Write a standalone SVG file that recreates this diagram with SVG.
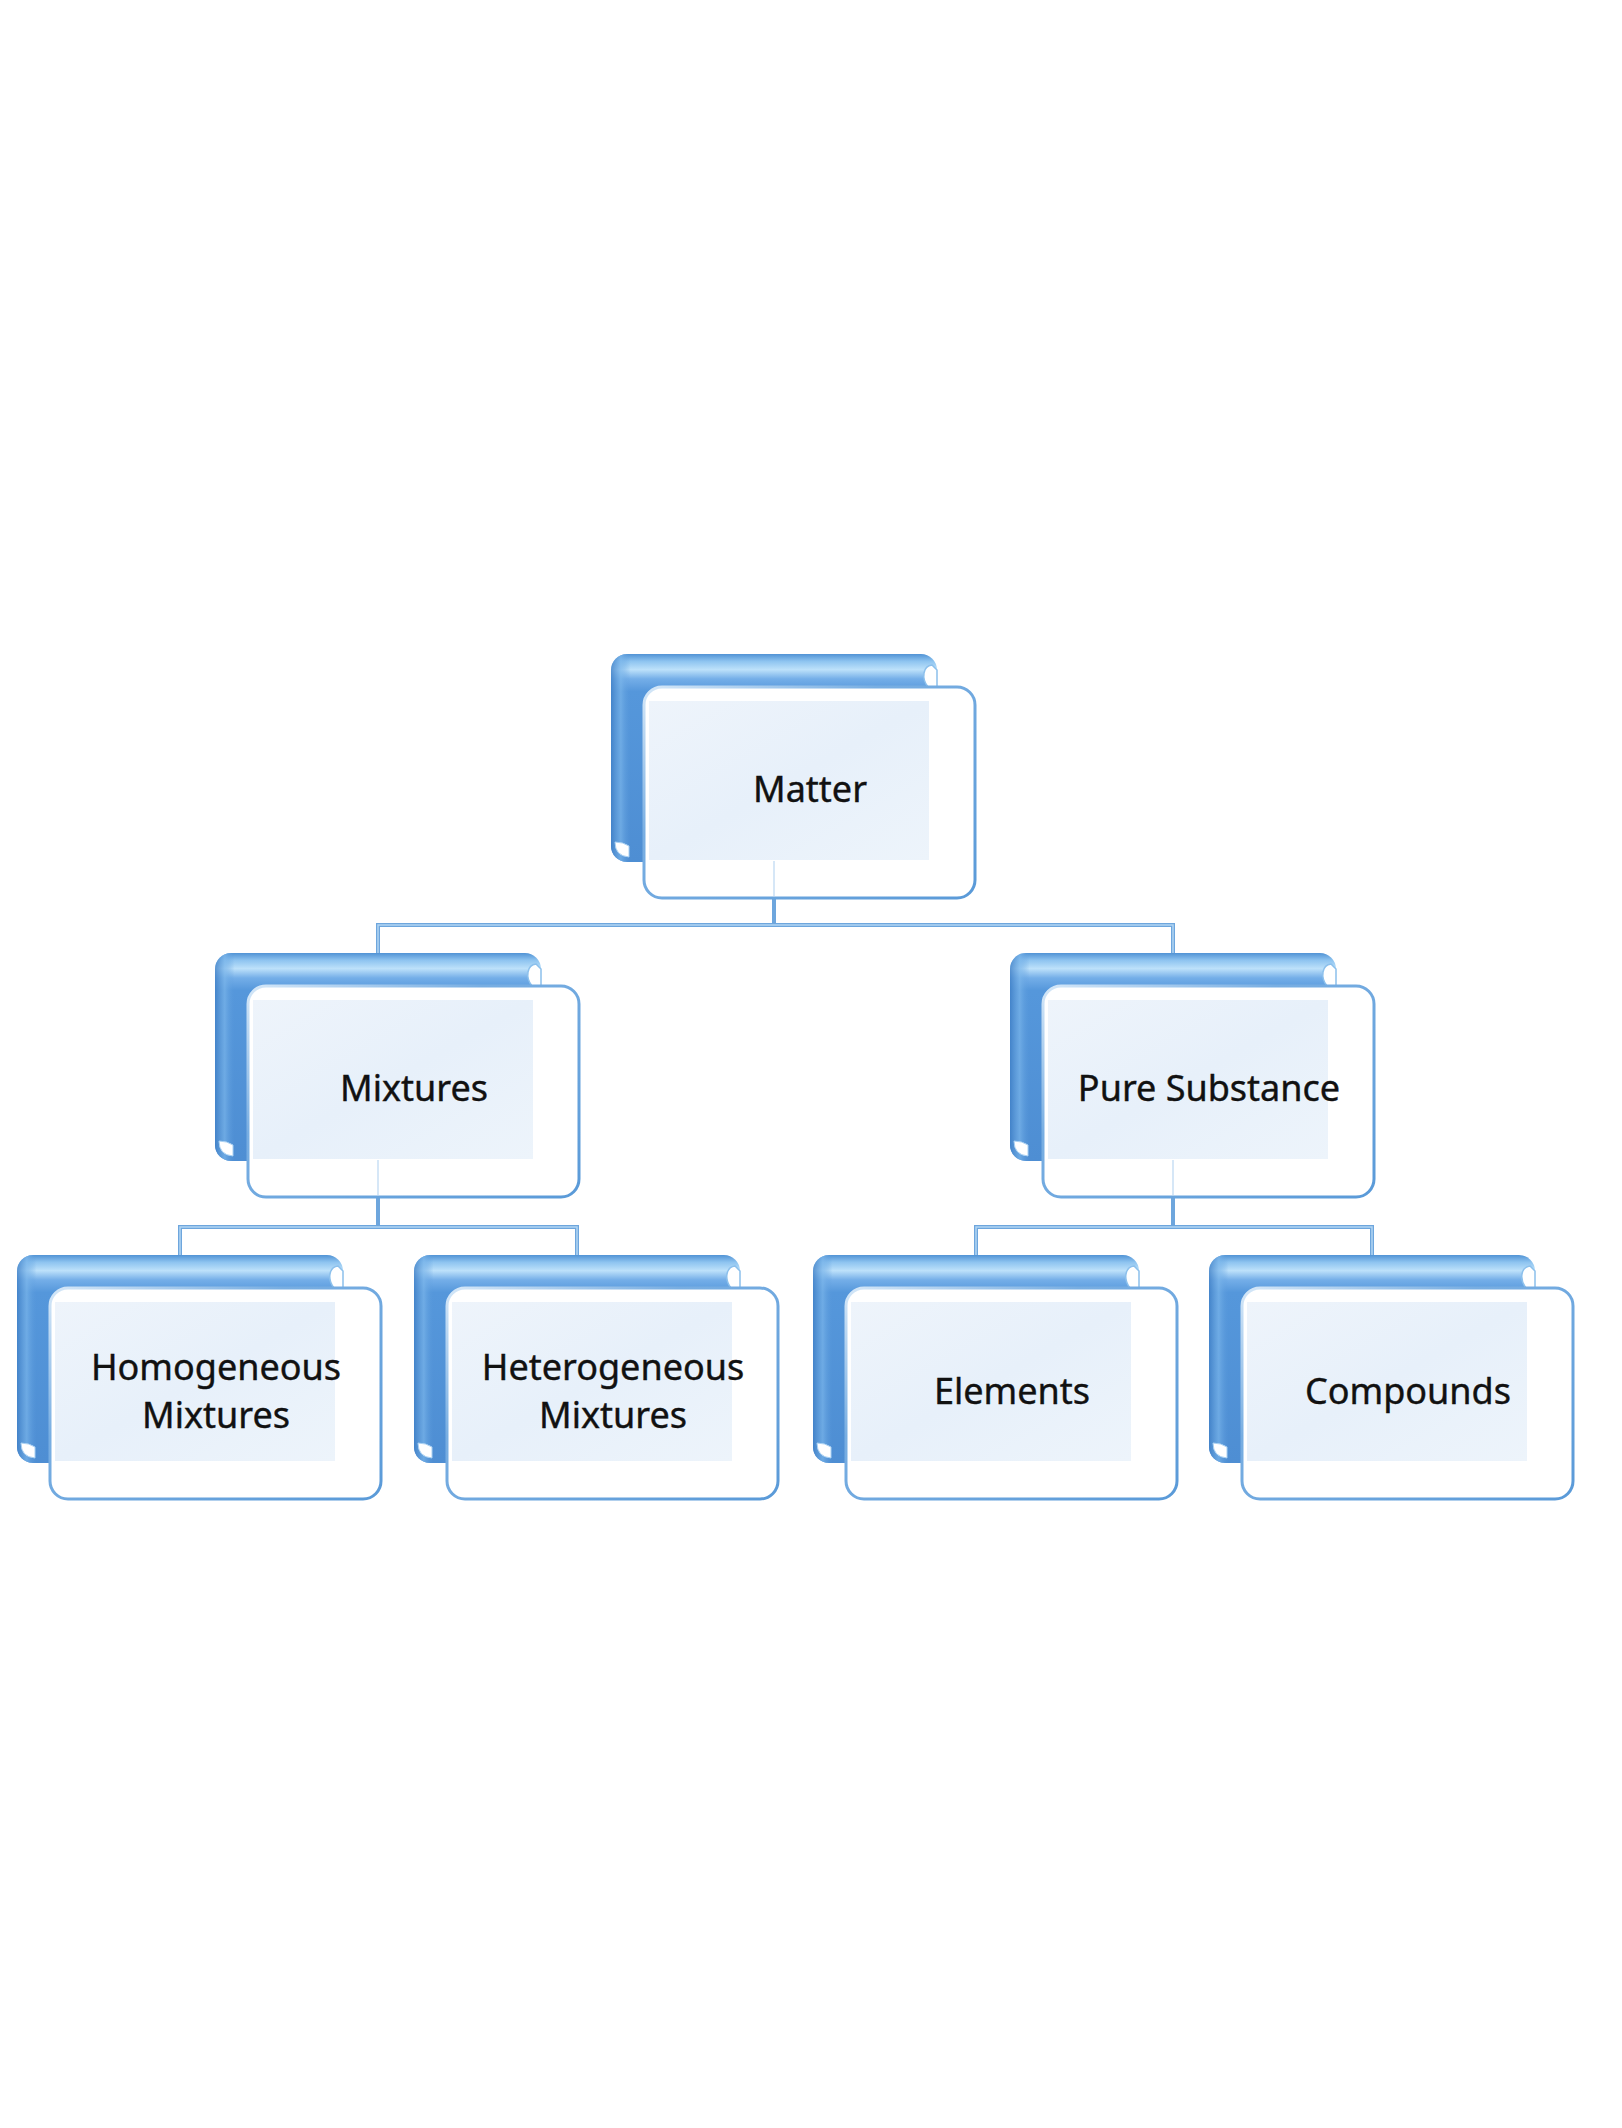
<svg xmlns="http://www.w3.org/2000/svg" width="1622" height="2128" viewBox="0 0 1622 2128">
<defs>
<linearGradient id="backV" x1="0" y1="0" x2="0" y2="1">
<stop offset="0" stop-color="#5193d5"/>
<stop offset="0.035" stop-color="#8ec4f0"/>
<stop offset="0.075" stop-color="#bde1fa"/>
<stop offset="0.12" stop-color="#74aee8"/>
<stop offset="0.18" stop-color="#5597db"/>
<stop offset="1" stop-color="#4e8ed3"/>
</linearGradient>
<linearGradient id="backH" x1="0" y1="0" x2="1" y2="0">
<stop offset="0" stop-color="#3f7fc6" stop-opacity="0.8"/>
<stop offset="0.03" stop-color="#7ab5ea" stop-opacity="0.7"/>
<stop offset="0.06" stop-color="#5b9bdc" stop-opacity="0"/>
<stop offset="1" stop-color="#5b9bdc" stop-opacity="0"/>
</linearGradient>
<linearGradient id="innerG" x1="0" y1="0" x2="1" y2="1">
<stop offset="0" stop-color="#eef4fb"/>
<stop offset="0.5" stop-color="#e7f0fa"/>
<stop offset="1" stop-color="#edf4fb"/>
</linearGradient>
<linearGradient id="frontStroke" x1="0" y1="0" x2="1" y2="1">
<stop offset="0" stop-color="#d6e8f8"/>
<stop offset="0.35" stop-color="#78aee2"/>
<stop offset="1" stop-color="#5a9ad8"/>
</linearGradient>
<g id="card">
<rect x="0" y="0" width="326" height="208" rx="16" fill="url(#backV)"/>
<rect x="0" y="0" width="326" height="208" rx="16" fill="url(#backH)"/>
<path d="M317,33 C310,24 312,12 321,11 L326,16 L326,33 Z" fill="#ffffff" stroke="#8cc0ec" stroke-width="1.5"/>
<path d="M4,188 Q4,202 18,203 L18,192 Q12,188 4,188 Z" fill="#ffffff" stroke="#a9d0f2" stroke-width="1"/>
<rect x="33" y="33" width="331" height="211" rx="18" fill="#ffffff" stroke="url(#frontStroke)" stroke-width="3"/>
<rect x="38" y="47" width="280" height="159" fill="url(#innerG)"/>
</g>
</defs>
<style>
.lbl{font-family:"Noto Sans","Open Sans","Liberation Sans",sans-serif;font-size:36px;fill:#111111;stroke:#111111;stroke-width:0.4;text-anchor:middle}
.con{fill:none;stroke:#6ea6dd;stroke-width:4}
.conhi{fill:none;stroke:#b3d6f4;stroke-width:1.5}
.faint{fill:none;stroke:#d6e7f7;stroke-width:2}
</style>
<rect x="0" y="0" width="1622" height="2128" fill="#ffffff"/>

<g id="connectors">
<path class="con" d="M774,898 V925 M378,953 V925 H1173 V953"/>
<path class="conhi" d="M378,953 V925 H1173 V953"/>
<path class="con" d="M378,1197 V1227 M180,1255 V1227 H577 V1255"/>
<path class="conhi" d="M180,1255 V1227 H577 V1255"/>
<path class="con" d="M1173,1197 V1227 M976,1255 V1227 H1372 V1255"/>
<path class="conhi" d="M976,1255 V1227 H1372 V1255"/>
</g>

<g id="node-matter">
<use href="#card" x="611" y="654"/>
<text class="lbl" x="810" y="802">Matter</text>
</g>
<g id="node-mixtures">
<use href="#card" x="215" y="953"/>
<text class="lbl" x="414" y="1101">Mixtures</text>
</g>
<g id="node-pure-substance">
<use href="#card" x="1010" y="953"/>
<text class="lbl" x="1209" y="1101">Pure Substance</text>
</g>
<g id="node-homogeneous">
<use href="#card" x="17" y="1255"/>
<text class="lbl" x="216" y="1380">Homogeneous</text>
<text class="lbl" x="216" y="1428">Mixtures</text>
</g>
<g id="node-heterogeneous">
<use href="#card" x="414" y="1255"/>
<text class="lbl" x="613" y="1380">Heterogeneous</text>
<text class="lbl" x="613" y="1428">Mixtures</text>
</g>
<g id="node-elements">
<use href="#card" x="813" y="1255"/>
<text class="lbl" x="1012" y="1404">Elements</text>
</g>
<g id="node-compounds">
<use href="#card" x="1209" y="1255"/>
<text class="lbl" x="1408" y="1404">Compounds</text>
</g>

<g id="connector-traces">
<path class="faint" d="M774,861 V896 M378,1160 V1195 M1173,1160 V1195"/>
</g>
</svg>
